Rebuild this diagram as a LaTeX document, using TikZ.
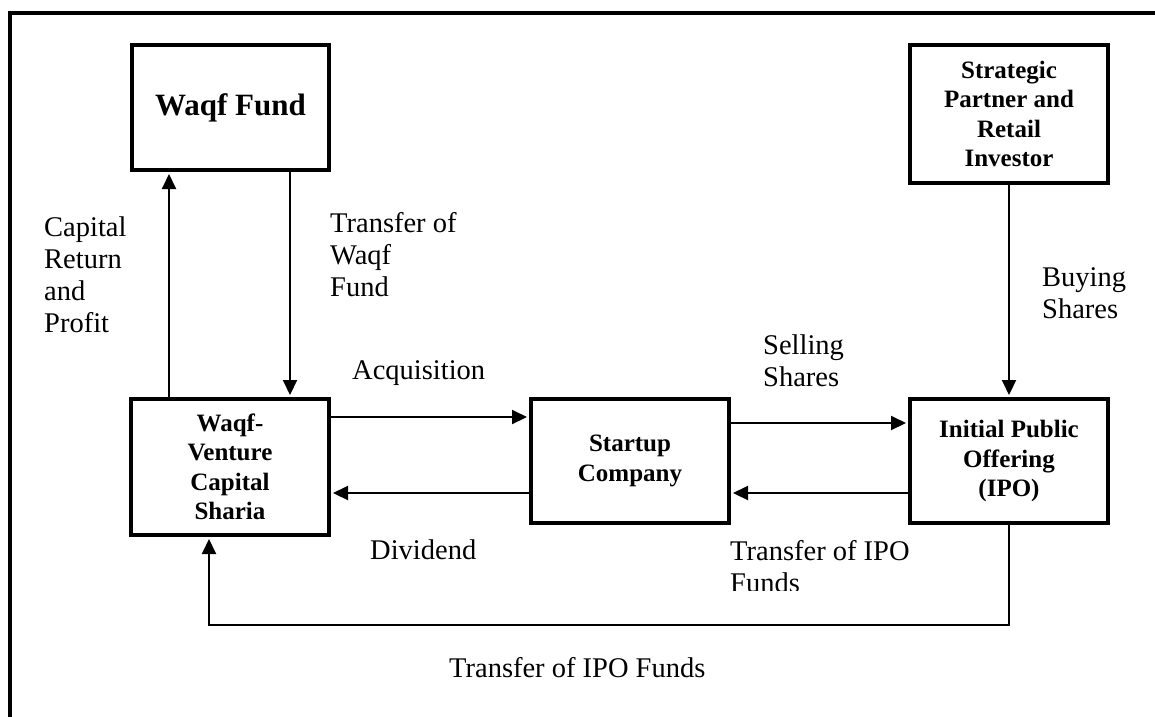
\documentclass[tikz,border=0pt]{standalone}
\usepackage{fontspec}
\setmainfont{Liberation Serif}
\usetikzlibrary{arrows.meta}
\begin{document}
\begin{tikzpicture}[x=1pt,y=-1pt,
  box/.style={draw,line width=4pt,inner sep=0pt,align=center,font=\fontsize{25}{29.5}\selectfont\bfseries},
  lbl/.style={inner sep=0pt,align=left,font=\fontsize{28.5}{32}\selectfont},
  arr/.style={line width=2pt,-{Triangle[length=15pt,width=14pt]},shorten >=2pt},
  frame/.style={line width=4.5pt}]
\useasboundingbox (0,0) rectangle (1155,716);
\draw[frame] (10,760) -- (10,13) -- (1200,13);

\node[box,minimum width=197pt,minimum height=125pt] (wf) at (230.5,107.5) {\fontsize{31}{33}\selectfont Waqf Fund};
\node[box,minimum width=198pt,minimum height=138pt] (sp) at (1009,114) {Strategic\\Partner and\\Retail\\Investor};
\node[box,minimum width=198pt,minimum height=136pt] (vc) at (230,467) {Waqf-\\Venture\\Capital\\Sharia};
\node[box,minimum width=198pt,minimum height=124pt] (su) at (630,461) {Startup\\Company};
\node[box,minimum width=198pt,minimum height=124pt] (ipo) at (1009,461) {Initial Public\\Offering\\(IPO)};

\coordinate (xa) at (169,0);
\coordinate (xb) at (290,0);
\coordinate (ya) at (0,417);
\coordinate (yb) at (0,493);
\coordinate (yc) at (0,423);
\coordinate (xl) at (209,625);
\coordinate (xr) at (1009,625);

\draw[arr] (vc.north -| xa) -- (wf.south -| xa);
\draw[arr] (wf.south -| xb) -- (vc.north -| xb);
\draw[arr] (vc.east |- ya) -- (su.west |- ya);
\draw[arr] (su.west |- yb) -- (vc.east |- yb);
\draw[arr] (su.east |- yc) -- (ipo.west |- yc);
\draw[arr] (ipo.west |- yb) -- (su.east |- yb);
\draw[arr] (sp.south) -- (ipo.north);
\draw[arr] (ipo.south) -- (xr) -- (xl) -- (vc.south -| xl);

\node[lbl,anchor=west] (l1) at (44,275) {Capital\\Return\\and\\Profit};
\node[lbl,anchor=west] (l2) at (330,255) {Transfer of\\Waqf\\Fund};
\node[lbl,anchor=west] (l3) at (352,373) {Acquisition};
\node[lbl,anchor=west] (l4) at (370,550) {Dividend};
\node[lbl,anchor=west] (l5) at (763,361) {Selling\\Shares};
\node[lbl,anchor=west] (l6) at (1042,293) {Buying\\Shares};
\begin{scope}
\clip (700,530) rectangle (950,590);
\node[lbl,anchor=west] (l7) at (730,567) {Transfer of IPO\\Funds};
\end{scope}
\node[lbl,anchor=west] (l8) at (449,668) {Transfer of IPO Funds};
\end{tikzpicture}
\end{document}
